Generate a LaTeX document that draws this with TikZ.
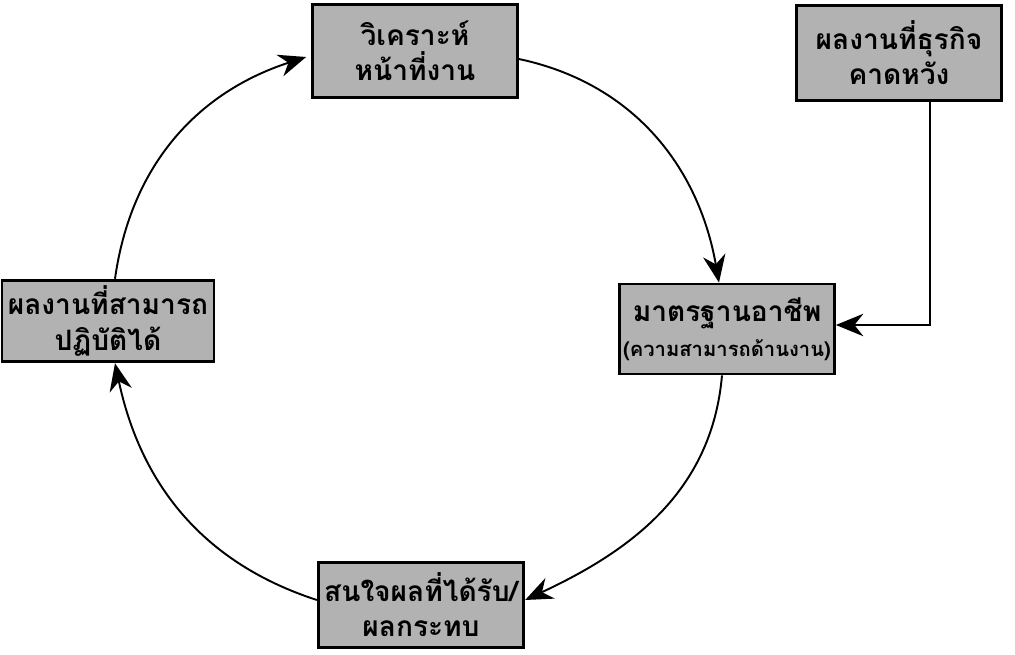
\documentclass[tikz,border=0pt]{standalone}
\usepackage{fontspec}
\usetikzlibrary{arrows.meta,calc}
\newfontfamily\thaifont[Script=Thai]{Loma}

\begin{document}
\begin{tikzpicture}[x=0.02cm,y=-0.02cm,
	box/.style={draw=black,line width=1.6pt,fill=gray!60,minimum width=4.1cm,minimum height=1.7cm,align=center,font=\thaifont\bfseries\fontsize{16}{20}\selectfont},
	flow/.style={line width=1.1pt,-{Stealth[length=5.5mm,width=4.5mm]}}]
	\useasboundingbox (0,0) rectangle (1015,655);
	\node[box,minimum height=1.85cm] (a) at (415,51) {วิเคราะห์\\หน้าที่งาน};
	\node[box,minimum height=1.9cm] (b) at (899,53) {ผลงานที่ธุรกิจ\\คาดหวัง};
	\node[box,minimum width=4.3cm,minimum height=1.8cm,inner sep=2pt] (c) at (727,329) {มาตรฐานอาชีพ\\{\fontsize{11.5}{17}\selectfont(ความสามารถด้านงาน)}};
	\node[box] (d) at (421,605) {สนใจผลที่ได้รับ/\\ผลกระทบ};
	\node[box,minimum height=1.55cm] (e) at (108,321) {ผลงานที่สามารถ\\ปฏิบัติได้};
	\draw[flow] ($(a.east)+(0,8)$) to[out=-12,in=100] ($(c.north)+(-8,0)$);
	\draw[flow] ($(c.south)+(-5,0)$) to[out=-95,in=25] ($(d.east)+(0,-5)$);
	\draw[flow] ($(d.west)+(0,-5)$) to[out=162,in=-78] ($(e.south)+(7,0)$);
	\draw[flow] ($(e.north)+(7,0)$) to[out=82,in=198] ($(a.west)+(-5,6)$);
	\draw[line width=0.8pt,-{Stealth[length=5.5mm,width=4.5mm]}] ($(b.south)+(31,0)$) |- ($(c.east)+(0,-4)$);
\end{tikzpicture}
\end{document}
